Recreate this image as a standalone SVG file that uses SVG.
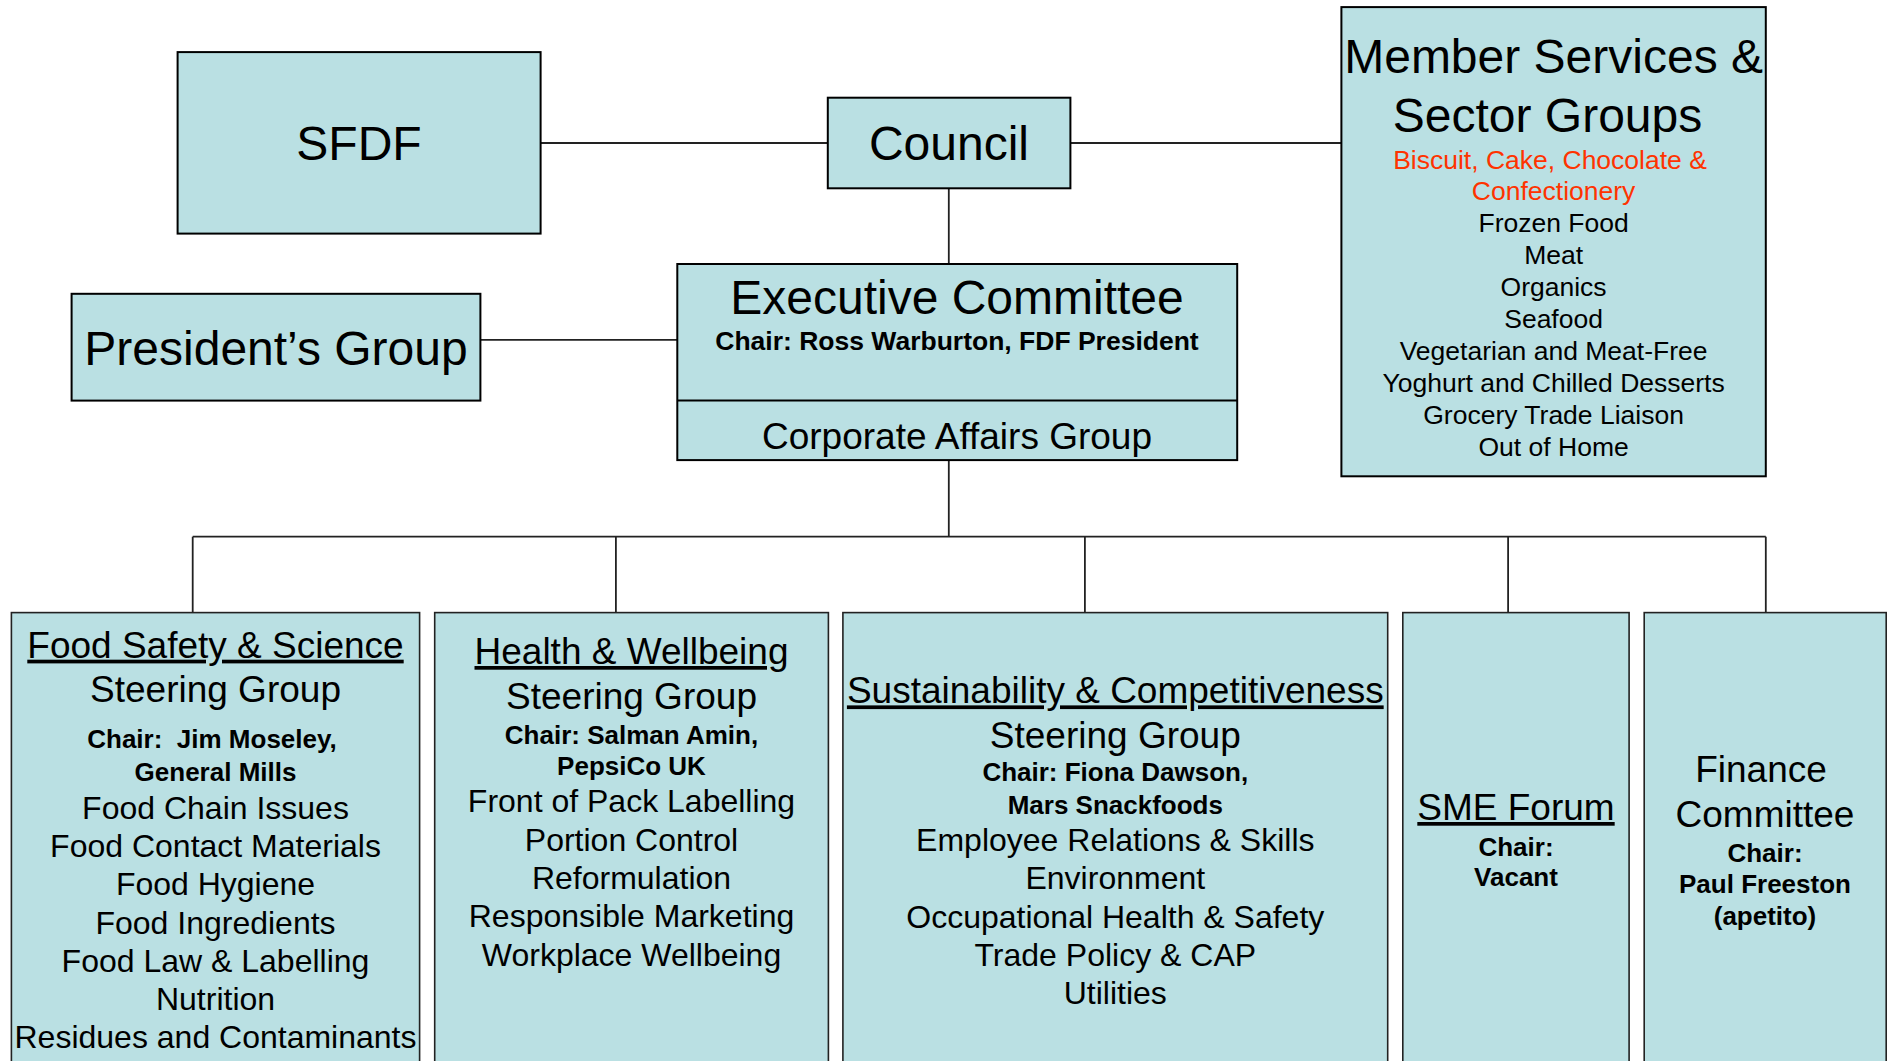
<svg xmlns="http://www.w3.org/2000/svg" width="1888" height="1061" viewBox="0 0 1888 1061">
<style>
.box{fill:#BAE0E3;stroke:#000;stroke-width:2}
.box2{fill:#BAE0E3;stroke:#222;stroke-width:1.6}
.con{stroke:#222;stroke-width:1.8;fill:none}
text{font-family:"Liberation Sans",Arial,sans-serif;text-anchor:middle;fill:#000;white-space:pre}
.t48{font-size:48px}
.t37{font-size:37px}
.t32{font-size:32px}
.t26{font-size:26.5px}
.b26{font-size:26px;font-weight:bold}
.u{text-decoration:underline}
.red{fill:#FF3300}
</style>
<rect width="1888" height="1061" fill="#fff"/>
<g id="connectors">
<line class="con" x1="540.6" y1="143" x2="827.8" y2="143"/>
<line class="con" x1="1070.4" y1="143" x2="1341.4" y2="143"/>
<line class="con" x1="948.8" y1="188.3" x2="948.8" y2="264"/>
<line class="con" x1="480.4" y1="339.8" x2="677.3" y2="339.8"/>
<line class="con" x1="948.8" y1="460" x2="948.8" y2="536.7"/>
<line class="con" x1="192.7" y1="536.7" x2="1765.8" y2="536.7"/>
<line class="con" x1="192.7" y1="536.7" x2="192.7" y2="612.6"/>
<line class="con" x1="615.9" y1="536.7" x2="615.9" y2="612.6"/>
<line class="con" x1="1084.9" y1="536.7" x2="1084.9" y2="612.6"/>
<line class="con" x1="1508.1" y1="536.7" x2="1508.1" y2="612.6"/>
<line class="con" x1="1765.8" y1="536.7" x2="1765.8" y2="612.6"/>
</g>
<g id="sfdf">
<rect class="box" x="177.6" y="52.1" width="363" height="181.5"/>
<text class="t48" x="359" y="160">SFDF</text>
</g>
<g id="council">
<rect class="box" x="827.8" y="97.7" width="242.6" height="90.6" stroke-width="2.4"/>
<text class="t48" x="949" y="160">Council</text>
</g>
<g id="presidents-group">
<rect class="box" x="71.6" y="293.8" width="408.8" height="106.8"/>
<text class="t48" x="276" y="365">President’s Group</text>
</g>
<g id="executive-committee">
<rect class="box" x="677.3" y="264" width="559.9" height="196.1" stroke-width="2.4"/>
<line x1="677.3" y1="400.6" x2="1237.2" y2="400.6" stroke="#000" stroke-width="2"/>
<text class="t48" x="957" y="314">Executive Committee</text>
<text class="b26" x="957" y="349.6" style="font-size:26.5px">Chair: Ross Warburton, FDF President</text>
<text class="t37" x="957" y="449">Corporate Affairs Group</text>
</g>
<g id="member-services">
<rect class="box" x="1341.4" y="7.1" width="424.4" height="469.2"/>
<text class="t48" x="1553.6" y="73.3">Member Services &amp;</text>
<text class="t48" x="1547.5" y="131.5">Sector Groups</text>
<text class="t26 red" x="1550" y="168.5">Biscuit, Cake, Chocolate &amp;</text>
<text class="t26 red" x="1553.6" y="200.4">Confectionery</text>
<text class="t26" x="1553.6" y="232.4">Frozen Food</text>
<text class="t26" x="1553.6" y="264.4">Meat</text>
<text class="t26" x="1553.6" y="296.4">Organics</text>
<text class="t26" x="1553.6" y="328.4">Seafood</text>
<text class="t26" x="1553.6" y="360.4">Vegetarian and Meat-Free</text>
<text class="t26" x="1553.6" y="392.4">Yoghurt and Chilled Desserts</text>
<text class="t26" x="1553.6" y="424.4">Grocery Trade Liaison</text>
<text class="t26" x="1553.6" y="456.4">Out of Home</text>
</g>
<g id="food-safety">
<rect class="box2" x="11.4" y="612.6" width="408.2" height="460"/>
<text class="t37 u" x="215.5" y="657.7">Food Safety &amp; Science</text>
<text class="t37" x="215.5" y="701.7">Steering Group</text>
<text class="b26" x="212" y="747.5">Chair:  Jim Moseley,</text>
<text class="b26" x="215.5" y="781.4">General Mills</text>
<text class="t32" x="215.5" y="818.6">Food Chain Issues</text>
<text class="t32" x="215.5" y="856.9">Food Contact Materials</text>
<text class="t32" x="215.5" y="895.2">Food Hygiene</text>
<text class="t32" x="215.5" y="933.5">Food Ingredients</text>
<text class="t32" x="215.5" y="971.8">Food Law &amp; Labelling</text>
<text class="t32" x="215.5" y="1010.1">Nutrition</text>
<text class="t32" x="215.5" y="1048.4">Residues and Contaminants</text>
</g>
<g id="health-wellbeing">
<rect class="box2" x="434.7" y="612.6" width="393.7" height="460"/>
<text class="t37 u" x="631.5" y="664">Health &amp; Wellbeing</text>
<text class="t37" x="631.5" y="708.5">Steering Group</text>
<text class="b26" x="631.5" y="744">Chair: Salman Amin,</text>
<text class="b26" x="631.5" y="774.6">PepsiCo UK</text>
<text class="t32" x="631.5" y="812">Front of Pack Labelling</text>
<text class="t32" x="631.5" y="850.6">Portion Control</text>
<text class="t32" x="631.5" y="889.2">Reformulation</text>
<text class="t32" x="631.5" y="927.3">Responsible Marketing</text>
<text class="t32" x="631.5" y="965.5">Workplace Wellbeing</text>
</g>
<g id="sustainability">
<rect class="box2" x="842.9" y="612.6" width="544.8" height="460"/>
<text class="t37 u" x="1115.3" y="703.4">Sustainability &amp; Competitiveness</text>
<text class="t37" x="1115.3" y="747.5">Steering Group</text>
<text class="b26" x="1115.3" y="781.4">Chair: Fiona Dawson,</text>
<text class="b26" x="1115.3" y="813.6">Mars Snackfoods</text>
<text class="t32" x="1115.3" y="851">Employee Relations &amp; Skills</text>
<text class="t32" x="1115.3" y="889.3">Environment</text>
<text class="t32" x="1115.3" y="927.6">Occupational Health &amp; Safety</text>
<text class="t32" x="1115.3" y="965.9">Trade Policy &amp; CAP</text>
<text class="t32" x="1115.3" y="1004.2">Utilities</text>
</g>
<g id="sme-forum">
<rect class="box2" x="1402.8" y="612.6" width="226.3" height="460"/>
<text class="t37 u" x="1516" y="820">SME Forum</text>
<text class="b26" x="1516" y="856">Chair:</text>
<text class="b26" x="1516" y="886.4">Vacant</text>
</g>
<g id="finance-committee">
<rect class="box2" x="1644.2" y="612.6" width="242" height="460"/>
<text class="t37" x="1761" y="782">Finance</text>
<text class="t37" x="1765" y="826.5">Committee</text>
<text class="b26" x="1765" y="861.5">Chair:</text>
<text class="b26" x="1765" y="893">Paul Freeston</text>
<text class="b26" x="1765" y="925">(apetito)</text>
</g>
</svg>
